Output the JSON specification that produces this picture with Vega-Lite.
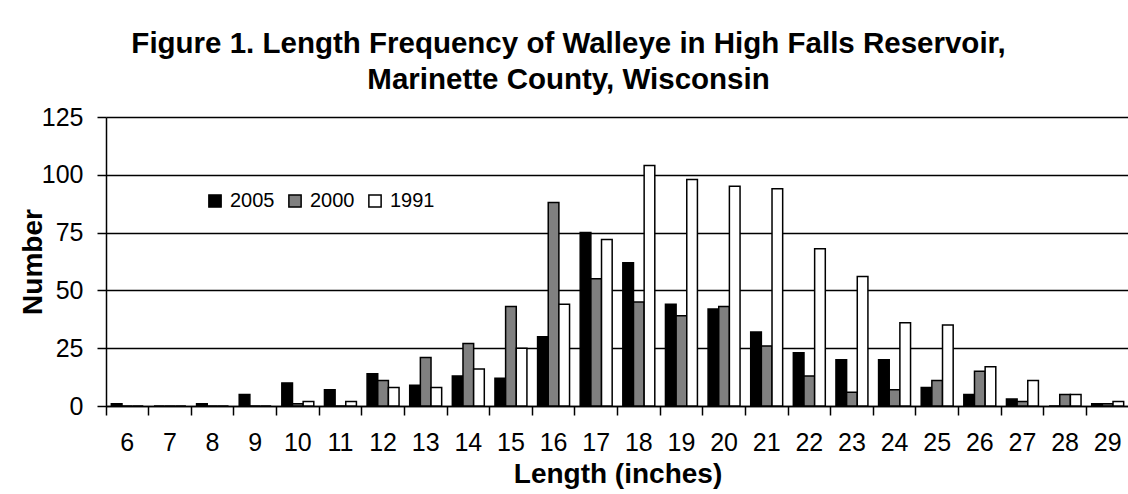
{
  "$schema": "https://vega.github.io/schema/vega-lite/v6.json",
  "width": 1023,
  "height": 289,
  "autosize": {"type": "none"},
  "padding": {"left": 106, "top": 117, "right": 0, "bottom": 88},
  "background": "white",
  "title": {
    "text": ["Figure 1. Length Frequency of Walleye in High Falls Reservoir,", "Marinette County, Wisconsin"],
    "font": "Liberation Sans",
    "fontSize": 29.5,
    "fontWeight": "bold",
    "color": "black",
    "anchor": "middle",
    "dx": -49,
    "offset": 10,
    "lineHeight": 36
  },
  "data": {
    "values": [
      {"length": 6, "year": "2005", "number": 1}, {"length": 6, "year": "2000", "number": 0}, {"length": 6, "year": "1991", "number": 0},
      {"length": 7, "year": "2005", "number": 0}, {"length": 7, "year": "2000", "number": 0}, {"length": 7, "year": "1991", "number": 0},
      {"length": 8, "year": "2005", "number": 1}, {"length": 8, "year": "2000", "number": 0}, {"length": 8, "year": "1991", "number": 0},
      {"length": 9, "year": "2005", "number": 5}, {"length": 9, "year": "2000", "number": 0}, {"length": 9, "year": "1991", "number": 0},
      {"length": 10, "year": "2005", "number": 10}, {"length": 10, "year": "2000", "number": 1}, {"length": 10, "year": "1991", "number": 2},
      {"length": 11, "year": "2005", "number": 7}, {"length": 11, "year": "2000", "number": 0}, {"length": 11, "year": "1991", "number": 2},
      {"length": 12, "year": "2005", "number": 14}, {"length": 12, "year": "2000", "number": 11}, {"length": 12, "year": "1991", "number": 8},
      {"length": 13, "year": "2005", "number": 9}, {"length": 13, "year": "2000", "number": 21}, {"length": 13, "year": "1991", "number": 8},
      {"length": 14, "year": "2005", "number": 13}, {"length": 14, "year": "2000", "number": 27}, {"length": 14, "year": "1991", "number": 16},
      {"length": 15, "year": "2005", "number": 12}, {"length": 15, "year": "2000", "number": 43}, {"length": 15, "year": "1991", "number": 25},
      {"length": 16, "year": "2005", "number": 30}, {"length": 16, "year": "2000", "number": 88}, {"length": 16, "year": "1991", "number": 44},
      {"length": 17, "year": "2005", "number": 75}, {"length": 17, "year": "2000", "number": 55}, {"length": 17, "year": "1991", "number": 72},
      {"length": 18, "year": "2005", "number": 62}, {"length": 18, "year": "2000", "number": 45}, {"length": 18, "year": "1991", "number": 104},
      {"length": 19, "year": "2005", "number": 44}, {"length": 19, "year": "2000", "number": 39}, {"length": 19, "year": "1991", "number": 98},
      {"length": 20, "year": "2005", "number": 42}, {"length": 20, "year": "2000", "number": 43}, {"length": 20, "year": "1991", "number": 95},
      {"length": 21, "year": "2005", "number": 32}, {"length": 21, "year": "2000", "number": 26}, {"length": 21, "year": "1991", "number": 94},
      {"length": 22, "year": "2005", "number": 23}, {"length": 22, "year": "2000", "number": 13}, {"length": 22, "year": "1991", "number": 68},
      {"length": 23, "year": "2005", "number": 20}, {"length": 23, "year": "2000", "number": 6}, {"length": 23, "year": "1991", "number": 56},
      {"length": 24, "year": "2005", "number": 20}, {"length": 24, "year": "2000", "number": 7}, {"length": 24, "year": "1991", "number": 36},
      {"length": 25, "year": "2005", "number": 8}, {"length": 25, "year": "2000", "number": 11}, {"length": 25, "year": "1991", "number": 35},
      {"length": 26, "year": "2005", "number": 5}, {"length": 26, "year": "2000", "number": 15}, {"length": 26, "year": "1991", "number": 17},
      {"length": 27, "year": "2005", "number": 3}, {"length": 27, "year": "2000", "number": 2}, {"length": 27, "year": "1991", "number": 11},
      {"length": 28, "year": "2005", "number": 0}, {"length": 28, "year": "2000", "number": 5}, {"length": 28, "year": "1991", "number": 5},
      {"length": 29, "year": "2005", "number": 1}, {"length": 29, "year": "2000", "number": 1}, {"length": 29, "year": "1991", "number": 2}
    ]
  },
  "mark": {"type": "bar", "stroke": "black", "strokeWidth": 1.5},
  "encoding": {
    "x": {
      "field": "length",
      "type": "ordinal",
      "scale": {"paddingInner": 0, "paddingOuter": 0},
      "axis": {
        "title": "Length (inches)",
        "labelAngle": 0,
        "bandPosition": 0,
        "tickSize": 9,
        "tickColor": "black",
        "tickWidth": 1.5,
        "domainColor": "black",
        "domainWidth": 1.5,
        "labelFont": "Liberation Sans",
        "labelFontSize": 25,
        "labelColor": "black",
        "labelPadding": 15,
        "titleFont": "Liberation Sans",
        "titleFontSize": 28,
        "titleFontWeight": "bold",
        "titleColor": "black",
        "titlePadding": 5,
        "grid": false
      }
    },
    "xOffset": {
      "field": "year",
      "type": "nominal",
      "scale": {"domain": ["2005", "2000", "1991"], "paddingInner": 0, "paddingOuter": 0.5}
    },
    "y": {
      "field": "number",
      "type": "quantitative",
      "scale": {"domain": [0, 125], "nice": false},
      "axis": {
        "title": "Number",
        "values": [0, 25, 50, 75, 100, 125],
        "grid": true,
        "gridColor": "black",
        "gridWidth": 1.5,
        "gridOpacity": 1,
        "tickSize": 9,
        "tickColor": "black",
        "tickWidth": 1.5,
        "domainColor": "black",
        "domainWidth": 1.5,
        "labelFont": "Liberation Sans",
        "labelFontSize": 25,
        "labelColor": "black",
        "labelPadding": 14,
        "titleFont": "Liberation Sans",
        "titleFontSize": 28,
        "titleFontWeight": "bold",
        "titleColor": "black",
        "titlePadding": -6
      }
    },
    "color": {
      "field": "year",
      "type": "nominal",
      "scale": {"domain": ["2005", "2000", "1991"], "range": ["#000000", "#808080", "#ffffff"]},
      "legend": {
        "title": null,
        "orient": "none",
        "legendX": 99,
        "legendY": 74,
        "direction": "horizontal",
        "symbolType": "square",
        "symbolSize": 150,
        "symbolStrokeColor": "black",
        "symbolStrokeWidth": 1.5,
        "symbolOpacity": 1,
        "labelFont": "Liberation Sans",
        "labelFontSize": 20,
        "labelColor": "black",
        "labelOffset": 5,
        "columnPadding": 10
      }
    }
  },
  "config": {"view": {"stroke": null}}
}
